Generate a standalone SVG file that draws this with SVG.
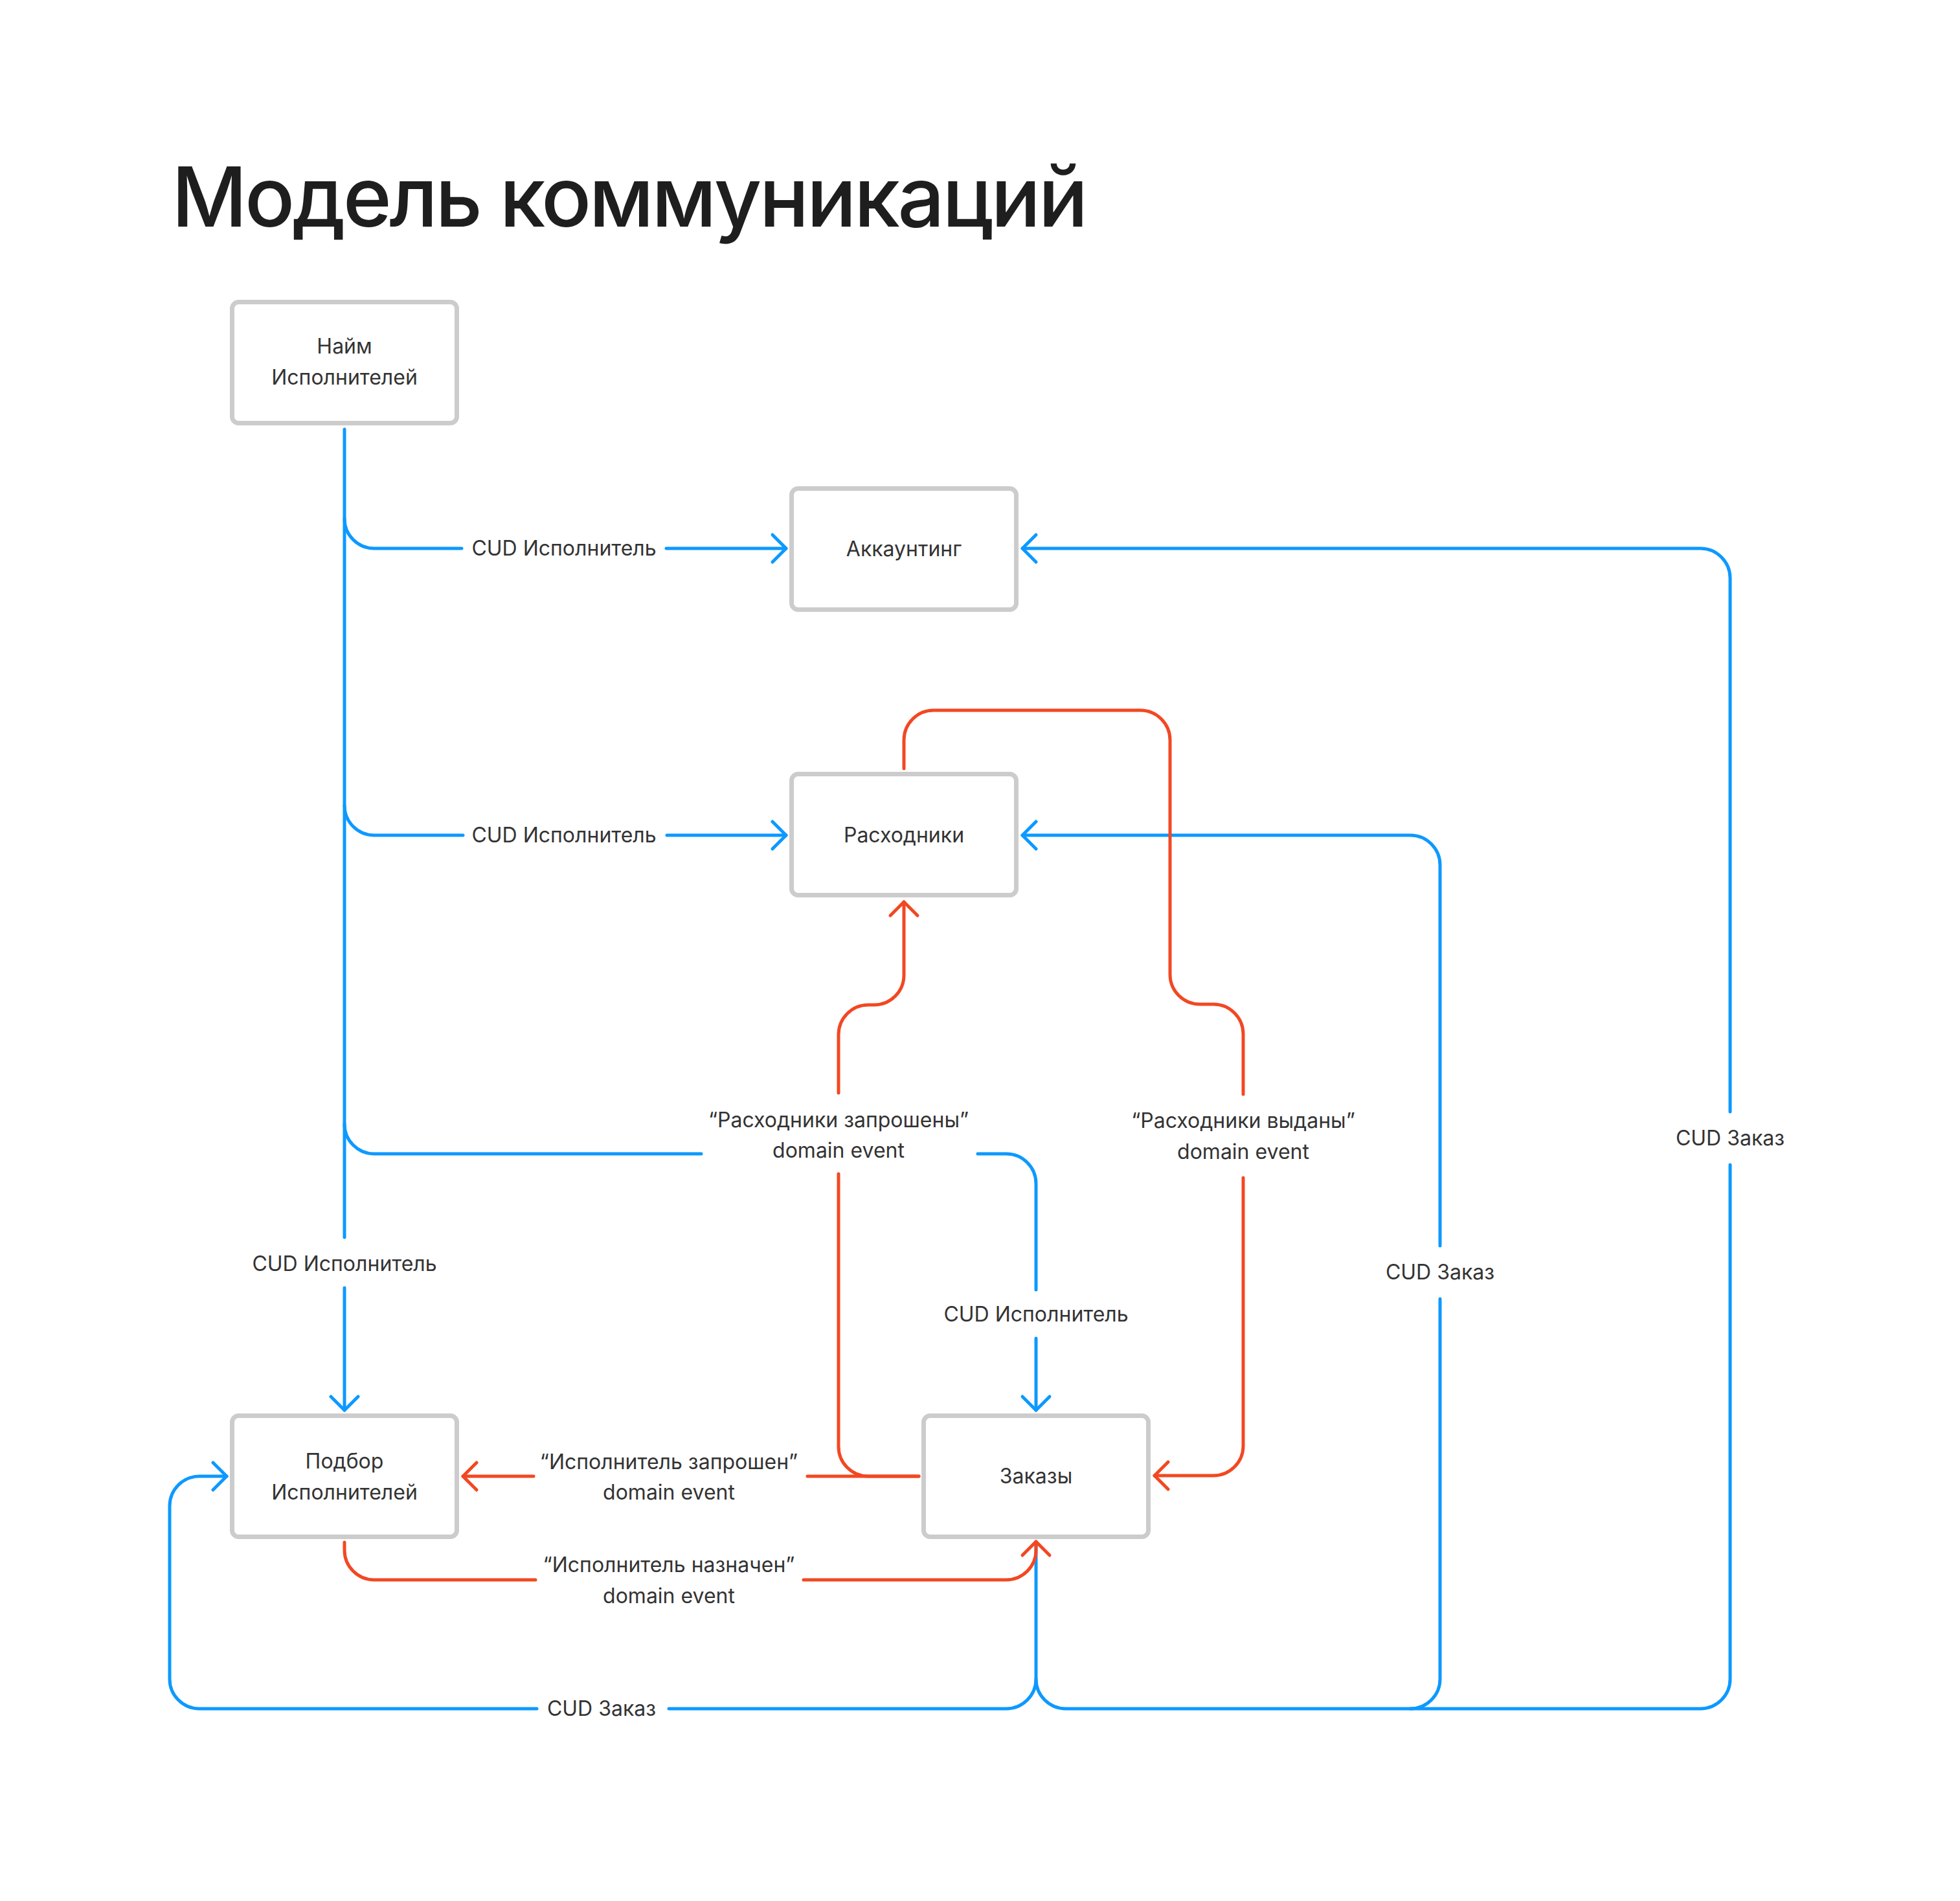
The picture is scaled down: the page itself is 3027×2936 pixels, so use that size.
<svg xmlns="http://www.w3.org/2000/svg" width="3027" height="2936" viewBox="0 0 3027 2936">
<style>
.node rect{fill:#fff;stroke:#CCCCCC;stroke-width:7}
text{font-family:Inter,"Liberation Sans",sans-serif;font-size:32px;fill:#333333;text-anchor:middle}
.title{font-size:128px;font-weight:500;fill:#1E1E1E;text-anchor:start;letter-spacing:-3.8px}
.b{fill:none;stroke:#0D99FF;stroke-width:5;stroke-linecap:round;stroke-linejoin:round}
.r{fill:none;stroke:#F24822;stroke-width:5;stroke-linecap:round;stroke-linejoin:round}
</style>
<defs>
<marker id="ab" markerUnits="userSpaceOnUse" markerWidth="60" markerHeight="60" viewBox="-30 -30 60 60" refX="0" refY="0" orient="auto"><path d="M-21 -21 L0 0 L-21 21" fill="none" stroke="#0D99FF" stroke-width="5" stroke-linecap="round" stroke-linejoin="round"/></marker>
<marker id="ar" markerUnits="userSpaceOnUse" markerWidth="60" markerHeight="60" viewBox="-30 -30 60 60" refX="0" refY="0" orient="auto"><path d="M-21 -21 L0 0 L-21 21" fill="none" stroke="#F24822" stroke-width="5" stroke-linecap="round" stroke-linejoin="round"/></marker>
</defs>
<rect width="3027" height="2936" fill="#fff"/>
<text class="title" x="265" y="350">Модель коммуникаций</text>

<g id="connectors">
<path class="b" d="M532 663 V1911 M532 1989 V2178" marker-end="url(#ab)"/>
<path class="b" d="M532 801 A46 46 0 0 0 578 847 H713 M1029 847 H1214" marker-end="url(#ab)"/>
<path class="b" d="M532 1244 A46 46 0 0 0 578 1290 H715 M1030 1290 H1214" marker-end="url(#ab)"/>
<path class="b" d="M532 1736 A46 46 0 0 0 578 1782 H1083 M1510 1782 H1554 A46 46 0 0 1 1600 1828 V1992 M1600 2067 V2178" marker-end="url(#ab)"/>
<path class="b" d="M1600 2388 V2593 A46 46 0 0 0 1646 2639 H2178 A46 46 0 0 0 2224 2593 V2006 M2224 1924 V1336 A46 46 0 0 0 2178 1290 H1579" marker-end="url(#ab)"/>
<path class="b" d="M2178 2639 H2626 A46 46 0 0 0 2672 2593 V1799 M2672 1717 V893 A46 46 0 0 0 2626 847 H1579" marker-end="url(#ab)"/>
<path class="b" d="M1600 2593 A46 46 0 0 1 1554 2639 H1033 M829 2639 H308 A46 46 0 0 1 262 2593 V2326 A46 46 0 0 1 308 2280 H350" marker-end="url(#ab)"/>
<path class="r" d="M1419 2280 H1341 A46 46 0 0 1 1295 2234 V1813 M1295 1688 V1598 A46 46 0 0 1 1341 1552 H1350 A46 46 0 0 0 1396 1506 V1393" marker-end="url(#ar)"/>
<path class="r" d="M1396 1187 V1143 A46 46 0 0 1 1442 1097 H1761 A46 46 0 0 1 1807 1143 V1505 A46 46 0 0 0 1853 1551 H1874 A46 46 0 0 1 1920 1597 V1690 M1920 1819 V2233 A46 46 0 0 1 1874 2279 H1783" marker-end="url(#ar)"/>
<path class="r" d="M1419 2280 H1247 M824 2280 H715" marker-end="url(#ar)"/>
<path class="r" d="M532 2382 V2394 A46 46 0 0 0 578 2440 H827 M1241 2440 H1554 A46 46 0 0 0 1600 2394 V2381" marker-end="url(#ar)"/>
<g id="labels">
<text x="871" y="858">CUD Исполнитель</text>
<text x="871" y="1301">CUD Исполнитель</text>
<text x="532" y="1963">CUD Исполнитель</text>
<text x="1600" y="2041">CUD Исполнитель</text>
<text x="1295" y="1741">“Расходники запрошены”</text>
<text x="1295" y="1788">domain event</text>
<text x="1920" y="1742">“Расходники выданы”</text>
<text x="1920" y="1790">domain event</text>
<text x="1033" y="2269">“Исполнитель запрошен”</text>
<text x="1033" y="2316">domain event</text>
<text x="1033" y="2428">“Исполнитель назначен”</text>
<text x="1033" y="2476">domain event</text>
<text x="929" y="2650">CUD Заказ</text>
<text x="2224" y="1976">CUD Заказ</text>
<text x="2672" y="1769">CUD Заказ</text>
</g>
</g>

<g id="node-naim" class="node">
<rect x="358.5" y="466.5" width="347" height="187" rx="10"/>
<text x="532" y="546">Найм</text>
<text x="532" y="594">Исполнителей</text>
</g>
<g id="node-accounting" class="node">
<rect x="1222.5" y="754.5" width="347" height="187" rx="10"/>
<text x="1396" y="859">Аккаунтинг</text>
</g>
<g id="node-rashodniki" class="node">
<rect x="1222.5" y="1195.5" width="347" height="187" rx="10"/>
<text x="1396" y="1301">Расходники</text>
</g>
<g id="node-podbor" class="node">
<rect x="358.5" y="2186.5" width="347" height="187" rx="10"/>
<text x="532" y="2268">Подбор</text>
<text x="532" y="2316">Исполнителей</text>
</g>
<g id="node-zakazy" class="node">
<rect x="1426.5" y="2186.5" width="347" height="187" rx="10"/>
<text x="1600" y="2291">Заказы</text>
</g>
</svg>
